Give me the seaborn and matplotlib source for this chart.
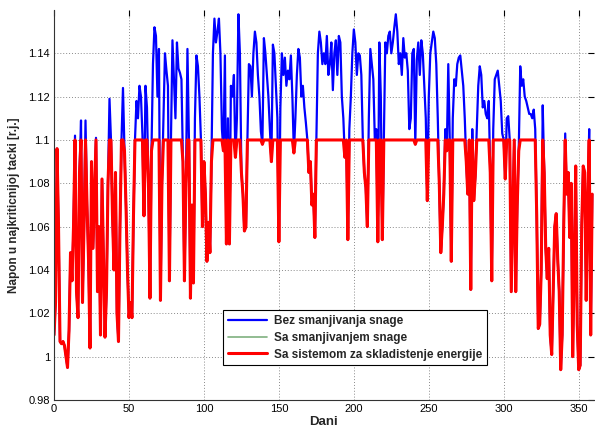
import numpy as np
import pandas as pd
import matplotlib
matplotlib.use("Agg")
import matplotlib.pyplot as plt
import seaborn as sns

# dani u godini
dani = list(range(360))

# Bez smanjivanja snage (plava)
napon_bez = [
    1.010, 1.025, 1.096, 1.060, 1.007, 1.006, 1.007, 1.005, 1.000, 0.995,
    1.012, 1.048, 1.035, 1.060, 1.102, 1.030, 1.018, 1.085, 1.109, 1.025,
    1.060, 1.109, 1.070, 1.045, 1.004, 1.090, 1.050, 1.075, 1.101, 1.030,
    1.060, 1.010, 1.082, 1.045, 1.009, 1.030, 1.080, 1.119, 1.100, 1.065,
    1.040, 1.085, 1.020, 1.007, 1.060, 1.100, 1.124, 1.095, 1.070, 1.040,
    1.018, 1.025, 1.018, 1.065, 1.100, 1.118, 1.110, 1.125, 1.120, 1.102,
    1.065, 1.125, 1.115, 1.080, 1.027, 1.095, 1.135, 1.152, 1.148, 1.120,
    1.142, 1.026, 1.080, 1.110, 1.140, 1.132, 1.125, 1.035, 1.100, 1.146,
    1.128, 1.110, 1.145, 1.133, 1.131, 1.128, 1.090, 1.035, 1.080, 1.142,
    1.100, 1.027, 1.070, 1.034, 1.110, 1.139, 1.134, 1.120, 1.100, 1.060,
    1.090, 1.075, 1.044, 1.062, 1.048, 1.090, 1.140, 1.156, 1.145, 1.150,
    1.156, 1.140, 1.105, 1.095, 1.139, 1.052, 1.110, 1.052, 1.125, 1.120,
    1.130, 1.092, 1.110, 1.158, 1.140, 1.085, 1.075, 1.058, 1.060, 1.100,
    1.135, 1.134, 1.120, 1.140, 1.150, 1.145, 1.130, 1.120, 1.104, 1.098,
    1.147, 1.140, 1.130, 1.120, 1.105, 1.090, 1.144, 1.140, 1.125, 1.110,
    1.053, 1.115, 1.140, 1.130, 1.138, 1.125, 1.132, 1.128, 1.139, 1.120,
    1.094, 1.110, 1.130, 1.142, 1.138, 1.120, 1.125, 1.115, 1.108, 1.100,
    1.085, 1.090, 1.070, 1.075, 1.055, 1.100, 1.140, 1.150, 1.145, 1.135,
    1.140, 1.135, 1.148, 1.130, 1.135, 1.145, 1.123, 1.140, 1.146, 1.130,
    1.148, 1.145, 1.120, 1.110, 1.092, 1.100, 1.054, 1.105, 1.120, 1.140,
    1.151, 1.145, 1.130, 1.140, 1.139, 1.130, 1.100, 1.085, 1.078, 1.060,
    1.110, 1.142, 1.135, 1.128, 1.100, 1.105, 1.053, 1.145, 1.120, 1.054,
    1.100, 1.145, 1.140, 1.148, 1.150, 1.140, 1.145, 1.152, 1.158, 1.150,
    1.135, 1.140, 1.130, 1.147, 1.138, 1.140, 1.132, 1.105, 1.110, 1.140,
    1.142, 1.098, 1.137, 1.145, 1.130, 1.146, 1.140, 1.125, 1.110, 1.072,
    1.120, 1.140, 1.145, 1.150, 1.147, 1.135, 1.110, 1.080, 1.048, 1.060,
    1.075, 1.105, 1.095, 1.135, 1.100, 1.044, 1.110, 1.128, 1.125, 1.135,
    1.138, 1.139, 1.132, 1.125, 1.110, 1.090, 1.075, 1.100, 1.031, 1.105,
    1.072, 1.083, 1.105, 1.125, 1.134, 1.130, 1.115, 1.118, 1.112, 1.110,
    1.118, 1.085, 1.035, 1.105, 1.128, 1.130, 1.132, 1.125, 1.118, 1.103,
    1.100, 1.082, 1.110, 1.111, 1.100, 1.030, 1.065, 1.100, 1.030, 1.070,
    1.095, 1.134, 1.125, 1.128, 1.120, 1.118, 1.115, 1.112, 1.112, 1.110,
    1.114, 1.105, 1.065, 1.013, 1.015, 1.040, 1.116, 1.085, 1.050, 1.036,
    1.050, 1.010, 1.001, 1.030, 1.060, 1.066, 1.045, 1.030, 0.994, 1.010,
    1.060, 1.103, 1.075, 1.085, 1.055, 1.080, 1.000, 1.040, 1.088, 1.015,
    0.994, 0.996, 1.060, 1.088, 1.085, 1.026, 1.070, 1.105, 1.010, 1.075,
]

# Sa sistemom za skladistenje energije (crvena)
napon_skladiste = [
    1.010, 1.025, 1.096, 1.060, 1.007, 1.006, 1.007, 1.005, 1.000, 0.995,
    1.012, 1.048, 1.035, 1.060, 1.100, 1.030, 1.018, 1.085, 1.100, 1.025,
    1.060, 1.100, 1.070, 1.045, 1.004, 1.090, 1.050, 1.075, 1.100, 1.030,
    1.060, 1.010, 1.082, 1.045, 1.009, 1.030, 1.080, 1.100, 1.100, 1.065,
    1.040, 1.085, 1.020, 1.007, 1.060, 1.100, 1.100, 1.095, 1.070, 1.040,
    1.018, 1.025, 1.018, 1.065, 1.100, 1.100, 1.100, 1.100, 1.100, 1.100,
    1.065, 1.100, 1.100, 1.080, 1.027, 1.095, 1.100, 1.100, 1.100, 1.100,
    1.100, 1.026, 1.080, 1.100, 1.100, 1.100, 1.100, 1.035, 1.100, 1.100,
    1.100, 1.100, 1.100, 1.100, 1.100, 1.100, 1.090, 1.035, 1.080, 1.100,
    1.100, 1.027, 1.070, 1.034, 1.100, 1.100, 1.100, 1.100, 1.100, 1.060,
    1.090, 1.075, 1.044, 1.062, 1.048, 1.090, 1.100, 1.100, 1.100, 1.100,
    1.100, 1.100, 1.100, 1.095, 1.100, 1.052, 1.100, 1.052, 1.100, 1.100,
    1.100, 1.092, 1.100, 1.100, 1.100, 1.085, 1.075, 1.058, 1.060, 1.100,
    1.100, 1.100, 1.100, 1.100, 1.100, 1.100, 1.100, 1.100, 1.100, 1.098,
    1.100, 1.100, 1.100, 1.100, 1.100, 1.090, 1.100, 1.100, 1.100, 1.100,
    1.053, 1.100, 1.100, 1.100, 1.100, 1.100, 1.100, 1.100, 1.100, 1.100,
    1.094, 1.100, 1.100, 1.100, 1.100, 1.100, 1.100, 1.100, 1.100, 1.100,
    1.085, 1.090, 1.070, 1.075, 1.055, 1.100, 1.100, 1.100, 1.100, 1.100,
    1.100, 1.100, 1.100, 1.100, 1.100, 1.100, 1.100, 1.100, 1.100, 1.100,
    1.100, 1.100, 1.100, 1.100, 1.092, 1.100, 1.054, 1.100, 1.100, 1.100,
    1.100, 1.100, 1.100, 1.100, 1.100, 1.100, 1.100, 1.085, 1.078, 1.060,
    1.100, 1.100, 1.100, 1.100, 1.100, 1.100, 1.053, 1.100, 1.100, 1.054,
    1.100, 1.100, 1.100, 1.100, 1.100, 1.100, 1.100, 1.100, 1.100, 1.100,
    1.100, 1.100, 1.100, 1.100, 1.100, 1.100, 1.100, 1.100, 1.100, 1.100,
    1.100, 1.098, 1.100, 1.100, 1.100, 1.100, 1.100, 1.100, 1.100, 1.072,
    1.100, 1.100, 1.100, 1.100, 1.100, 1.100, 1.100, 1.080, 1.048, 1.060,
    1.075, 1.100, 1.095, 1.100, 1.100, 1.044, 1.100, 1.100, 1.100, 1.100,
    1.100, 1.100, 1.100, 1.100, 1.100, 1.090, 1.075, 1.100, 1.031, 1.100,
    1.072, 1.083, 1.100, 1.100, 1.100, 1.100, 1.100, 1.100, 1.100, 1.100,
    1.100, 1.085, 1.035, 1.100, 1.100, 1.100, 1.100, 1.100, 1.100, 1.100,
    1.100, 1.082, 1.100, 1.100, 1.100, 1.030, 1.065, 1.100, 1.030, 1.070,
    1.095, 1.100, 1.100, 1.100, 1.100, 1.100, 1.100, 1.100, 1.100, 1.100,
    1.100, 1.100, 1.065, 1.013, 1.015, 1.040, 1.100, 1.085, 1.050, 1.036,
    1.050, 1.010, 1.001, 1.030, 1.060, 1.066, 1.045, 1.030, 0.994, 1.010,
    1.060, 1.100, 1.075, 1.085, 1.055, 1.080, 1.000, 1.040, 1.088, 1.015,
    0.994, 0.996, 1.060, 1.088, 1.085, 1.026, 1.070, 1.100, 1.010, 1.075,
]

# Sa smanjivanjem snage (zelena) - lezi ispod crvene linije
napon_smanjivanje = napon_skladiste

labele = ["Bez smanjivanja snage", "Sa smanjivanjem snage",
          "Sa sistemom za skladistenje energije"]

df = pd.DataFrame({"dan": dani, "bez": napon_bez,
                   "smanj": napon_smanjivanje, "sklad": napon_skladiste})

sns.set_style("white")
plt.rcParams["font.family"] = ["Liberation Sans", "DejaVu Sans"]

fig = plt.figure(figsize=(5.95, 4.32), dpi=100)
ax = fig.add_axes([0.0908, 0.074, 0.907, 0.903])

sns.lineplot(data=df, x="dan", y="bez", ax=ax, color="#0000ff", lw=1.6, label=labele[0])
sns.lineplot(data=df, x="dan", y="smanj", ax=ax, color="#7fb07f", lw=1.2, label=labele[1])
sns.lineplot(data=df, x="dan", y="sklad", ax=ax, color="#ff0000", lw=2.2, label=labele[2])

ax.set_xlim(0, 360)
ax.set_ylim(0.98, 1.16)
ax.set_xticks([0, 50, 100, 150, 200, 250, 300, 350])
ax.set_yticks([0.98, 1.0, 1.02, 1.04, 1.06, 1.08, 1.1, 1.12, 1.14])
ax.set_yticklabels(["0.98", "1", "1.02", "1.04", "1.06", "1.08", "1.1", "1.12", "1.14"])
ax.grid(True, linestyle=(0, (1, 2)), color="#8a8a8a", lw=0.7)
ax.tick_params(direction="in", length=4, labelsize=8, top=True, right=True,
               colors="black", pad=3)
for s in ["left", "bottom"]:
    ax.spines[s].set_color("#333333")
    ax.spines[s].set_linewidth(0.8)
for s in ["top", "right"]:
    ax.spines[s].set_visible(False)

ax.set_xlabel("Dani", fontsize=9.5, fontweight="bold", labelpad=1)
ax.set_ylabel("Napon u najkriticnijoj tacki [r.j.]", fontsize=8.5, fontweight="bold", labelpad=6)

leg = ax.legend(loc="upper left", bbox_to_anchor=(0.303, 0.245), frameon=True,
                fancybox=False, edgecolor="black", framealpha=1,
                prop={"weight": "bold", "size": 8.5}, handlelength=3.3,
                borderpad=0.4, labelspacing=0.4, handletextpad=0.6)
leg.get_frame().set_linewidth(0.8)

fig.savefig("out.png", dpi=100)
